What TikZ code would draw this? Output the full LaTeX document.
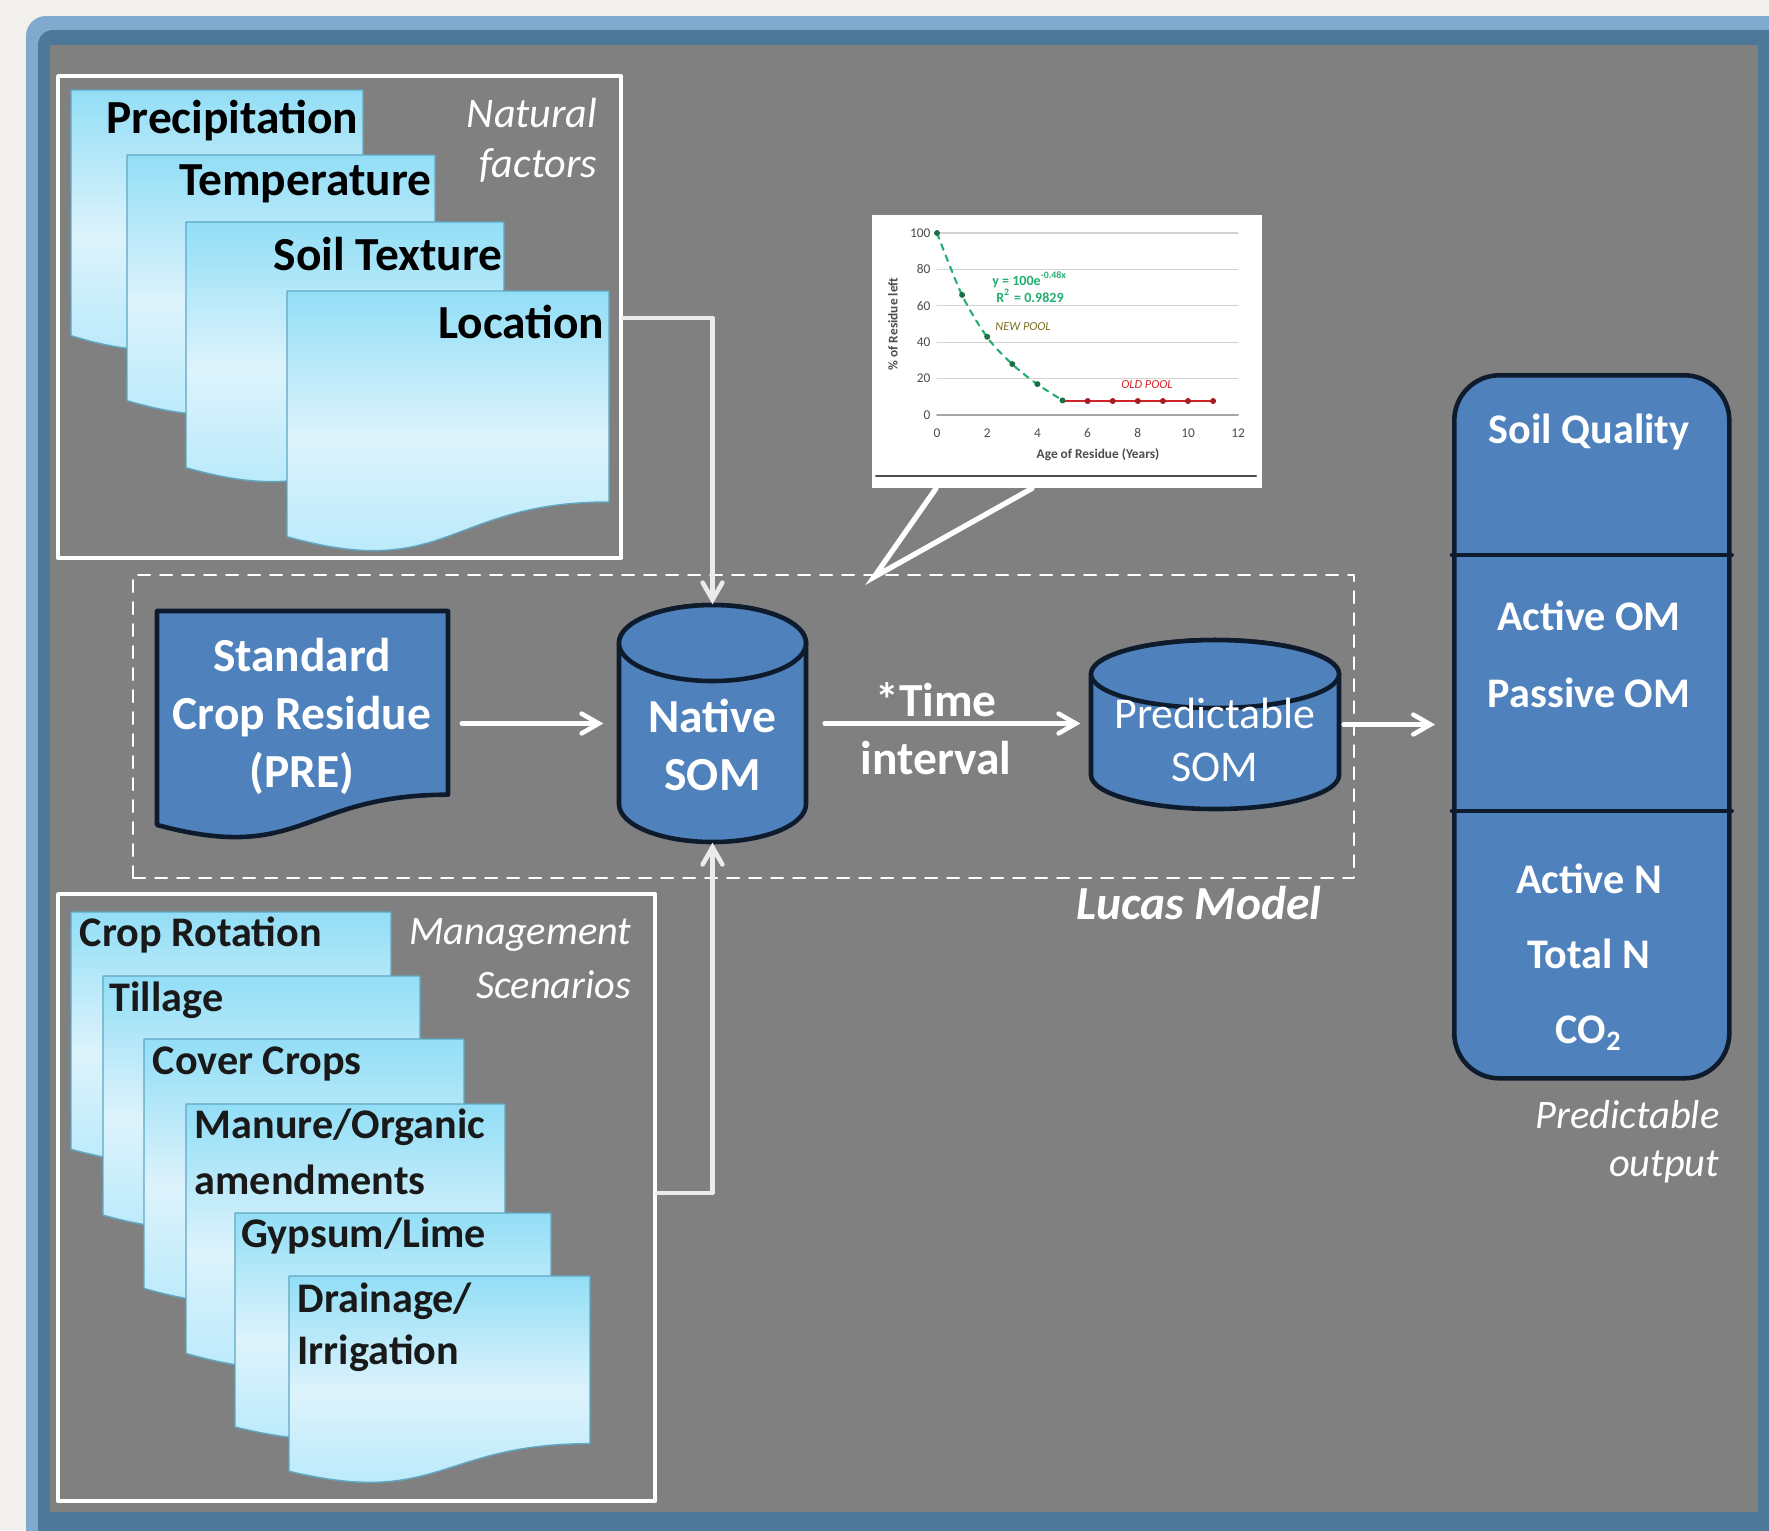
\documentclass[tikz,border=0pt]{standalone}
\usepackage{fontspec}
\setmainfont{Carlito}
\usepackage{tikz}
\usetikzlibrary{arrows}

\definecolor{pagebg}{HTML}{F1F0EC}
\definecolor{framelight}{HTML}{7FAACD}
\definecolor{framedark}{HTML}{4D7897}
\definecolor{panelgray}{HTML}{808080}
\definecolor{somblue}{HTML}{4F81BD}
\definecolor{navy}{HTML}{0E1B2C}
\definecolor{doctop}{HTML}{92DEF6}
\definecolor{docmid}{HTML}{DDF3FC}
\definecolor{docbot}{HTML}{B2E8FA}
\definecolor{docedge}{HTML}{5FA7C2}
\definecolor{fitgreen}{HTML}{22B070}
\definecolor{ptgreen}{HTML}{1F6E4A}
\definecolor{oldred}{HTML}{D2232A}
\definecolor{poololive}{HTML}{7D6E22}

% flowchart document outline: x, y (top left), width, height
\newcommand{\docpath}[4]{(#1,#2) -- (#1+#3,#2) -- (#1+#3,#2+0.802*#4)
  .. controls (#1+0.5*#3,#2+0.802*#4) and (#1+0.5*#3,#2+1.107*#4) .. (#1,#2+0.934*#4) -- cycle}
% database cylinder: left x, right x, top y, bottom y, half height of the lid
\newcommand{\somcyl}[5]{%
  \filldraw[cylbody] (#1,#3+#5) -- (#1,#4-#5)
    arc[start angle=180,end angle=0,x radius={(#2-#1)/2},y radius=#5] -- (#2,#3+#5)
    arc[start angle=0,end angle=-180,x radius={(#2-#1)/2},y radius=#5] -- cycle;
  \draw[cylbody] ({(#1+#2)/2},#3+#5) ellipse [x radius={(#2-#1)/2},y radius=#5];}

\begin{document}
\begin{tikzpicture}[x=0.1mm,y=-0.1mm,line cap=round,line join=round,>=angle 60,
  doc/.style={top color=doctop,bottom color=docbot,middle color=docmid,draw=docedge,line width=0.4pt},
  bluedoc/.style={fill=somblue,draw=navy,line width=1.3pt},
  cylbody/.style={fill=somblue,draw=navy,line width=1.3pt},
  groupbox/.style={draw=white,line width=1.2pt,anchor=north west,inner sep=0pt},
  flow/.style={->,draw=white,line width=1.3pt},
  feed/.style={->,draw=black!8,line width=1.3pt},
  factor/.style={font=\fontsize{13.5}{16}\selectfont\bfseries,text=black,inner sep=0pt,anchor=east},
  mgmt/.style={font=\fontsize{12}{14}\selectfont\bfseries,text=black!90,inner sep=0pt,anchor=west},
  sidetag/.style={font=\fontsize{11.5}{14}\selectfont\itshape,text=white,inner sep=0pt,anchor=east},
  inblue/.style={font=\fontsize{13.5}{16.5}\selectfont\bfseries,text=white,inner sep=0pt,align=center},
  outtxt/.style={font=\fontsize{12}{14}\selectfont\bfseries,text=white,inner sep=0pt},
  ticklbl/.style={font=\fontsize{3.8}{4.5}\selectfont,text=black!70,inner sep=0pt},
  eqlbl/.style={font=\fontsize{4}{4.5}\selectfont\bfseries,inner sep=0pt}]
 	\useasboundingbox (0,0) rectangle (1769,1530);
 	\clip (0,0) rectangle (1769,1530);
 	% frame
 	\fill[pagebg] (0,0) rectangle (1769,1530);
 	\fill[framelight,rounded corners=2mm] (26,16) rectangle (1800,1560);
 	\fill[framedark,rounded corners=1.5mm] (38,30) rectangle (1800,1560);
 	\fill[panelgray] (50,45) rectangle (1758,1512);

 	% natural factors
 	\node[groupbox,minimum width=56.3mm,minimum height=48.2mm] (natbox) at (56,74) {};
 	\path[doc] \docpath{71}{90}{292}{263};
 	\path[doc] \docpath{127}{155}{308}{263};
 	\path[doc] \docpath{186}{222}{318}{263};
 	\path[doc] \docpath{287}{291}{322}{263};
 	\node[factor] (precip) at (359,121) {Precipitation};
 	\node[factor] (temp) at (432,184) {Temperature};
 	\node[factor] (texture) at (503,254) {Soil Texture};
 	\node[factor] (loc) at (605,322) {Location};
 	\node[sidetag,font=\fontsize{12}{14}\selectfont\itshape] (nat1) at (598,113) {Natural};
 	\node[sidetag,font=\fontsize{12}{14}\selectfont\itshape] (nat2) at (598,165) {factors};

 	% management scenarios
 	\node[groupbox,minimum width=59.7mm,minimum height=60.7mm] (mgmtbox) at (56,892) {};
 	\path[doc] \docpath{71}{912}{320}{254};
 	\path[doc] \docpath{103}{976}{317}{256};
 	\path[doc] \docpath{144}{1039}{320}{267};
 	\path[doc] \docpath{186}{1104}{319}{267};
 	\path[doc] \docpath{235}{1213}{316}{229};
 	\path[doc] \docpath{289}{1276}{301}{209};
 	\node[mgmt] (rotation) at (79,935) {Crop Rotation};
 	\node[mgmt] (tillage) at (109,1000) {Tillage};
 	\node[mgmt] (cover) at (152,1064) {Cover Crops};
 	\node[mgmt] (manure) at (194,1127) {Manure/Organic};
 	\node[mgmt] (amend) at (194,1180) {amendments};
 	\node[mgmt] (gypsum) at (241,1236) {Gypsum/Lime};
 	\node[mgmt] (drain) at (297,1301) {Drainage/};
 	\node[mgmt] (irrig) at (297,1353) {Irrigation};
 	\node[sidetag] (man1) at (632,935) {Management};
 	\node[sidetag] (man2) at (632,985) {Scenarios};

 	% Lucas model
 	\node[draw=white,dash pattern=on 1.2mm off 1mm,line width=0.6pt,anchor=north west,
 	  minimum width=122.1mm,minimum height=30.3mm,inner sep=0pt] (lucas) at (132,574) {};
 	\node[sidetag,font=\fontsize{13.5}{16}\selectfont\bfseries\itshape] (lucaslbl) at (1322,903) {Lucas Model};
 	\path[bluedoc] \docpath{157}{611}{291}{229};
 	\node[inblue] (pre) at (302,716) {Standard\\Crop Residue\\(PRE)};
 	\somcyl{619}{806}{605}{842}{38}
 	\node[minimum width=18.7mm,minimum height=23.7mm,inner sep=0pt] (native) at (712.5,723.5) {};
 	\node[inblue] (nativetxt) at (712.5,745) {Native\\SOM};
 	\somcyl{1091}{1339}{640}{809}{34}
 	\node[minimum width=24.8mm,minimum height=16.9mm,inner sep=0pt] (pred) at (1215,724.5) {};
 	\node[inblue,font=\fontsize{12.5}{15}\selectfont] (predtxt) at (1215,740) {Predictable\\SOM};
 	\node[inblue] (timeup) at (936,700) {*Time};
 	\node[inblue] (timedn) at (936,758) {interval};

 	% decay chart callout
 	\node[fill=white,anchor=north west,minimum width=39mm,minimum height=27.3mm,inner sep=0pt] (chart) at (871,214) {};
 	\coordinate (ptip) at (874,577);
 	\filldraw[draw=white,fill=panelgray,line width=1.5pt,line join=miter]
 	  ([xshift=6.5mm]chart.south west) -- (ptip) -- ([xshift=16.1mm]chart.south west);
 	\draw[black!70,line width=0.6pt] (876,476) -- (1256,476);
 	\foreach \p in {0,20,...,100}{
 	  \draw[gray!35,line width=0.3pt] (937,415-1.82*\p) -- (1238,415-1.82*\p);
 	  \node[ticklbl,anchor=east] (yt\p) at (931,415-1.82*\p) {\p};
 	}
 	\draw[gray!70,line width=0.4pt] (937,415) -- (1238,415);
 	\foreach \x in {0,2,...,12}
 	  \node[ticklbl] (xt\x) at (937+25.1*\x,433) {\x};
 	\node[ticklbl,font=\fontsize{3.8}{4.5}\selectfont\bfseries] (xttl) at (1098,455) {Age of Residue (Years)};
 	\node[ticklbl,font=\fontsize{3.8}{4.5}\selectfont\bfseries,rotate=90] (yttl) at (893,324) {\% of Residue left};
 	\draw[fitgreen,dash pattern=on 0.6mm off 0.6mm,line width=0.6pt] plot[smooth] coordinates
 	  {(937,233) (962,295) (987,337) (1012,364) (1037,384) (1062,400)};
 	\draw[oldred,line width=0.5pt] (1062,401) -- (1213,401);
 	\foreach \x/\y in {0/100,1/66,2/43,3/28,4/17,5/8}
 	  \fill[ptgreen] (937+25.1*\x,415-1.82*\y) circle (3);
 	\foreach \x in {6,...,11}
 	  \fill[oldred!80!black] (937+25.1*\x,401) circle (3);
 	\node[eqlbl,text=fitgreen] (eq1) at (1030,280) {y = 100e\textsuperscript{-0.48x}};
 	\node[eqlbl,text=fitgreen] (eq2) at (1030,296) {R\textsuperscript{2} = 0.9829};
 	\node[eqlbl,text=poololive,font=\fontsize{3.5}{4}\selectfont\itshape] (newpool) at (1023,327) {NEW POOL};
 	\node[eqlbl,text=oldred,font=\fontsize{3.5}{4}\selectfont\itshape] (oldpool) at (1147,385) {OLD POOL};

 	% predictable output
 	\node[draw=navy,fill=somblue,line width=1.3pt,rounded corners=4.5mm,anchor=north west,
 	  minimum width=27.5mm,minimum height=70.3mm,inner sep=0pt] (out) at (1452,373) {};
 	\draw[navy,line width=1.3pt] (out.west |- 0,555) -- (out.east |- 0,555);
 	\draw[navy,line width=1.3pt] (out.west |- 0,811) -- (out.east |- 0,811);
 	\node[outtxt] (quality) at (1589,432) {Soil Quality};
 	\node[outtxt] (activeom) at (1589,616) {Active OM};
 	\node[outtxt] (passiveom) at (1589,693) {Passive OM};
 	\node[outtxt] (activen) at (1589,879) {Active N};
 	\node[outtxt] (totaln) at (1589,954) {Total N};
 	\node[outtxt] (co2) at (1589,1033) {CO\textsubscript{2}};
 	\node[sidetag] (po1) at (1720,1115) {Predictable};
 	\node[sidetag] (po2) at (1720,1167) {output};

 	% connectors
 	\coordinate (natout) at (natbox.east |- 0,318);
 	\coordinate (mgmtout) at (mgmtbox.east |- 0,1193);
 	\draw[feed] (natout) -| (native.north);
 	\draw[feed] (mgmtout) -| (native.south);
 	\draw[flow] ([xshift=3mm]pre.east |- native) -- ([xshift=-1.5mm]native.west);
 	\draw[flow] ([xshift=1.8mm]native.east) -- ([xshift=-1mm]pred.west |- native);
 	\draw[flow] ([xshift=0.4mm]pred.east) -- ([xshift=-1.7mm]out.west |- pred);
\end{tikzpicture}
\end{document}
